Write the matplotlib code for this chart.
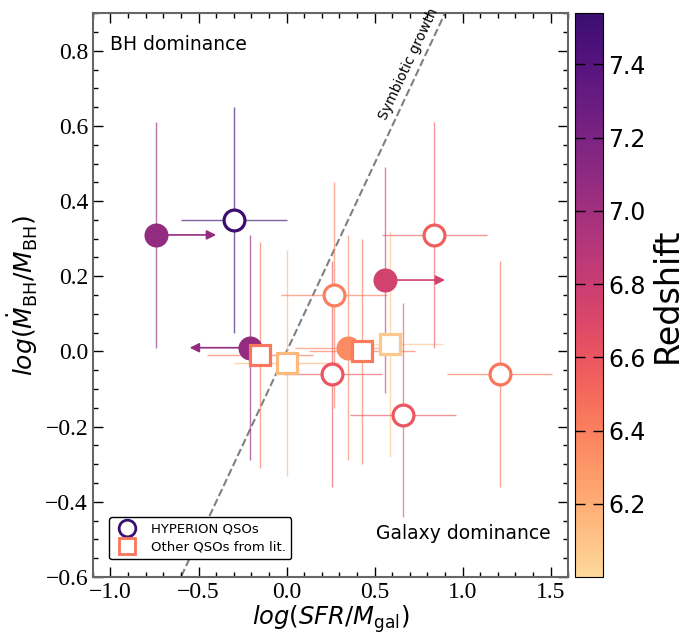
import numpy as np
import matplotlib
matplotlib.use("Agg")
import matplotlib.pyplot as plt
from matplotlib.colors import ListedColormap, Normalize
from matplotlib.lines import Line2D
from matplotlib.ticker import MultipleLocator

plt.rcParams['mathtext.fontset'] = 'dejavusans'

# quasar sample: specific SFR vs specific BH accretion rate
sfr_ratio = [-0.74, -0.30, -0.21, -0.15, 0.00, 0.27, 0.26, 0.35, 0.43, 0.59, 0.56, 0.84, 0.66, 1.21]
bh_ratio = [0.31, 0.35, 0.01, -0.01, -0.03, 0.15, -0.06, 0.01, 0.00, 0.02, 0.19, 0.31, -0.17, -0.06]
sfr_err = [0.0, 0.30, 0.0, 0.30, 0.30, 0.30, 0.28, 0.30, 0.30, 0.30, 0.0, 0.30, 0.30, 0.30]
bh_err_lo = [0.30, 0.30, 0.30, 0.30, 0.30, 0.30, 0.30, 0.30, 0.30, 0.30, 0.30, 0.30, 0.27, 0.30]
bh_err_hi = [0.30, 0.30, 0.30, 0.30, 0.30, 0.30, 0.30, 0.30, 0.30, 0.30, 0.30, 0.30, 0.30, 0.30]
redshift = [7.08, 7.54, 7.08, 6.45, 6.15, 6.40, 6.60, 6.35, 6.42, 6.08, 6.75, 6.55, 6.60, 6.45]
marker = ['o', 'o', 'o', 's', 's', 'o', 'o', 'o', 's', 's', 'o', 'o', 'o', 'o']
filled = [True, False, True, False, False, False, False, True, False, False, True, False, False, False]
# +1 lower limit on SFR ratio, -1 upper limit, 0 measured
sfr_limit = [1, 0, -1, 0, 0, 0, 0, 0, 0, 0, 1, 0, 0, 0]

base = plt.get_cmap('magma')
cmap = ListedColormap(base(np.linspace(0.92, 0.2, 256)))
norm = Normalize(vmin=6.0, vmax=7.54)

fig = plt.figure(figsize=(6.83, 6.35), dpi=100)
ax = fig.add_axes([0.136, 0.0913, 0.696, 0.888])
cax = fig.add_axes([0.842, 0.0913, 0.041, 0.888])

for i in range(len(sfr_ratio)):
    c = cmap(norm(redshift[i]))
    x, y = sfr_ratio[i], bh_ratio[i]
    ax.errorbar(x, y, xerr=sfr_err[i] if sfr_err[i] > 0 else None,
                yerr=[[bh_err_lo[i]], [bh_err_hi[i]]], fmt='none',
                ecolor=c, elinewidth=1.0, alpha=0.65, zorder=2)
    if sfr_limit[i] != 0:
        ax.annotate('', xy=(x + 0.34 * sfr_limit[i], y), xytext=(x, y),
                    arrowprops=dict(arrowstyle='-|>', color=c, lw=1.2,
                                    mutation_scale=14, shrinkA=0, shrinkB=0),
                    zorder=3)
    ax.plot(x, y, marker=marker[i], ms=15 if marker[i] == 'o' else 14,
            mfc=c if filled[i] else 'white', mec=c, mew=2.3,
            ls='none', zorder=4)

# symbiotic growth: equal specific growth rates
line_x = np.array([-1.2, 1.7])
ax.plot(line_x, line_x, ls='--', color='gray', lw=1.5, zorder=1)
ax.text(0.695, 0.765, 'Symbiotic growth', rotation=64.8, fontsize=10,
        ha='center', va='center')

ax.text(-1.0, 0.817, 'BH dominance', fontsize=13.5, ha='left', va='center')
ax.text(1.5, -0.483, 'Galaxy dominance', fontsize=13.5, ha='right', va='center')

ax.set_xlim(-1.1, 1.6)
ax.set_ylim(-0.6, 0.9)
ax.xaxis.set_major_locator(MultipleLocator(0.5))
ax.xaxis.set_minor_locator(MultipleLocator(0.1))
ax.yaxis.set_major_locator(MultipleLocator(0.2))
ax.yaxis.set_minor_locator(MultipleLocator(0.05))
ax.tick_params(which='both', direction='in', top=True, right=True, width=1)
ax.tick_params(which='major', length=7)
ax.tick_params(which='minor', length=3.5)
for lab in ax.get_xticklabels() + ax.get_yticklabels():
    lab.set_family('Liberation Serif')
    lab.set_fontsize(17)
for sp in ax.spines.values():
    sp.set_color('#666666')
    sp.set_linewidth(1.5)

ax.set_xlabel(r'$log(SFR/M_{\rm gal})$', fontsize=17.5, labelpad=0)
ax.set_ylabel(r'$log(\dot{M}_{\rm BH}/M_{\rm BH})$', fontsize=18, labelpad=4)

handles = [
    Line2D([], [], marker='o', ls='none', ms=12, mfc='white',
           mec=cmap(norm(7.54)), mew=2),
    Line2D([], [], marker='s', ls='none', ms=12, mfc='white',
           mec=cmap(norm(6.45)), mew=2),
]
ax.legend(handles, ['HYPERION QSOs', 'Other QSOs from lit.'], loc='lower left',
          fontsize=9.5, frameon=True, edgecolor='black', framealpha=1,
          bbox_to_anchor=(0.02, 0.02), handletextpad=0.8, borderpad=0.4,
          labelspacing=0.4)

sm = plt.cm.ScalarMappable(norm=norm, cmap=cmap)
cb = fig.colorbar(sm, cax=cax)
cb.set_ticks([6.2, 6.4, 6.6, 6.8, 7.0, 7.2, 7.4])
cb.ax.minorticks_off()
cb.ax.tick_params(direction='in', left=True, right=True, length=7, width=1,
                  labelsize=17)
cb.set_label('Redshift', fontsize=24)

fig.savefig('out.png', dpi=100)
